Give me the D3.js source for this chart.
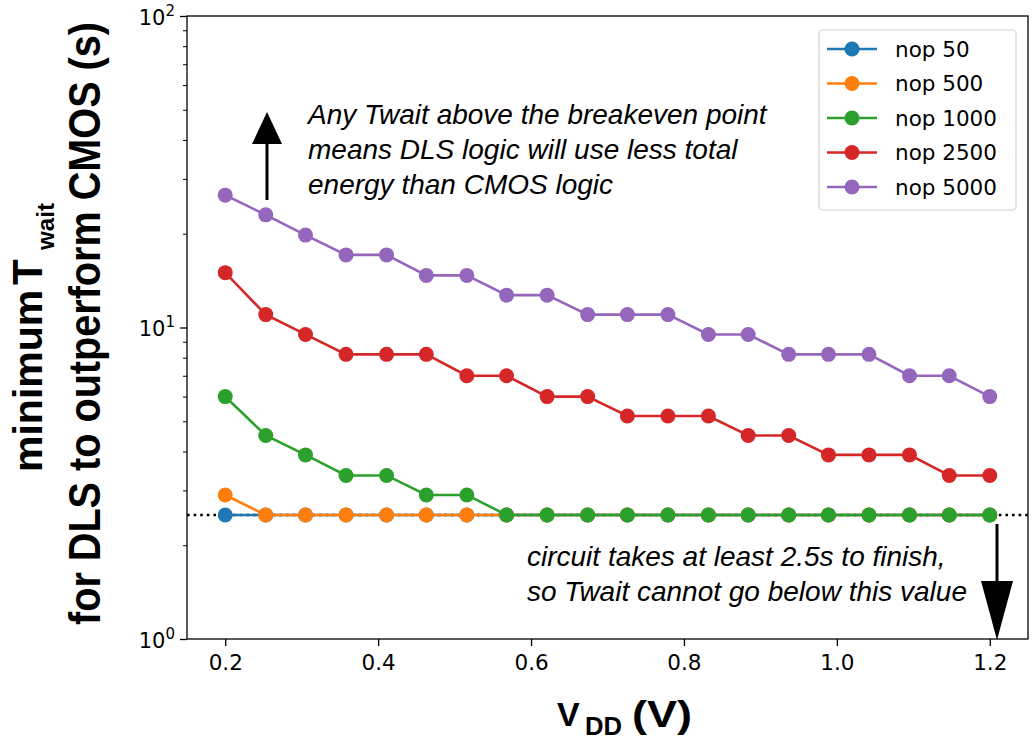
<!DOCTYPE html>
<html><head><meta charset="utf-8">
<script src="https://cdn.jsdelivr.net/npm/d3@7"></script>
<style>body{margin:0;background:#fff}</style>
</head><body>
<svg id="c" width="1034" height="740"></svg>
<script>
const vdd = [0.2, 0.253, 0.305, 0.358, 0.411, 0.463, 0.516, 0.568, 0.621, 0.674, 0.726, 0.779, 0.832, 0.884, 0.937, 0.989, 1.042, 1.095, 1.147, 1.2];
const nop50   = [2.5,2.5,2.5,2.5,2.5,2.5,2.5,2.5,2.5,2.5,2.5,2.5,2.5,2.5,2.5,2.5,2.5,2.5,2.5,2.5];
const nop500  = [2.9,2.5,2.5,2.5,2.5,2.5,2.5,2.5,2.5,2.5,2.5,2.5,2.5,2.5,2.5,2.5,2.5,2.5,2.5,2.5];
const nop1000 = [6.0,4.5,3.9,3.35,3.35,2.9,2.9,2.5,2.5,2.5,2.5,2.5,2.5,2.5,2.5,2.5,2.5,2.5,2.5,2.5];
const nop2500 = [15,11,9.5,8.2,8.2,8.2,7.0,7.0,6.0,6.0,5.2,5.2,5.2,4.5,4.5,3.9,3.9,3.9,3.35,3.35];
const nop5000 = [26.6,23,19.8,17.1,17.1,14.7,14.7,12.7,12.7,11,11,11,9.5,9.5,8.2,8.2,8.2,7.0,7.0,6.0];
const seriesNames = ["nop 50","nop 500","nop 1000","nop 2500","nop 5000"];
const seriesColors = ["#1f77b4","#ff7f0e","#2ca02c","#d62728","#9467bd"];
const seriesData = [nop50, nop500, nop1000, nop2500, nop5000];
const xTicks = [0.2,0.4,0.6,0.8,1.0,1.2];
const yTicks = [1,10,100];
const minTimeLine = 2.5;

const svg = d3.select("#c");
const L=187, R=1028, T=16, B=639;
const x = d3.scaleLinear().domain([0.15,1.25]).range([L,R]);
const y = d3.scaleLog().domain([1,100]).range([B,T]);
const dv = "'DejaVu Sans',sans-serif";
const ar = "'Liberation Sans',Arial,sans-serif";

// axes
const xAxis = svg.append("g").attr("transform",`translate(0,${B})`)
  .call(d3.axisBottom(x).tickValues(xTicks).tickFormat(d3.format(".1f")).tickSize(7).tickPadding(9));
xAxis.selectAll("text").attr("font-family",dv).attr("font-size",21.5).attr("fill","#000");
xAxis.select(".domain").remove();
xAxis.selectAll("line").attr("stroke","#000").attr("stroke-width",1.3);

const minor = [];
for (let d=1; d<100; d*=10) for (let k=2;k<10;k++) minor.push(d*k);
const yMinor = svg.append("g").attr("transform",`translate(${L},0)`)
  .call(d3.axisLeft(y).tickValues(minor).tickFormat("").tickSize(4));
yMinor.select(".domain").remove();
yMinor.selectAll("line").attr("stroke","#000").attr("stroke-width",1);
const yAxis = svg.append("g").attr("transform",`translate(${L},0)`)
  .call(d3.axisLeft(y).tickValues(yTicks).tickFormat("").tickSize(7));
yAxis.select(".domain").remove();
yAxis.selectAll("line").attr("stroke","#000").attr("stroke-width",1.3);
yAxis.selectAll(".tick").append("text")
  .attr("x",-12).attr("y",8).attr("text-anchor","end")
  .attr("font-family",dv).attr("font-size",21).attr("fill","#000")
  .each(function(d){
    const t=d3.select(this);
    t.append("tspan").text("10");
    t.append("tspan").attr("dy",-9).attr("font-size",15).text(String(Math.round(Math.log10(d))));
  });

// dotted line
svg.append("line").attr("x1",L).attr("x2",R+3).attr("y1",y(minTimeLine)).attr("y2",y(minTimeLine))
  .attr("stroke","#000").attr("stroke-width",2.6).attr("stroke-dasharray","2.6,4");

// series
const line = d3.line().x((d,i)=>x(vdd[i])).y(d=>y(d));
seriesData.forEach((s,k)=>{
  const g = svg.append("g");
  g.append("path").datum(s).attr("d",line).attr("fill","none").attr("stroke",seriesColors[k]).attr("stroke-width",2.6);
  g.selectAll("circle").data(s).join("circle").attr("cx",(d,i)=>x(vdd[i])).attr("cy",d=>y(d)).attr("r",7.5).attr("fill",seriesColors[k]);
});

// frame
svg.append("rect").attr("x",L).attr("y",T).attr("width",R-L).attr("height",B-T).attr("fill","none").attr("stroke","#000").attr("stroke-width",1.3);

// legend
const lg = svg.append("g");
lg.append("rect").attr("x",819).attr("y",30).attr("width",197).attr("height",180).attr("rx",4)
  .attr("fill","#fff").attr("fill-opacity",0.8).attr("stroke","#d0d0d0").attr("stroke-width",1.2);
seriesNames.forEach((n,k)=>{
  const yy = 49 + k*34.5;
  lg.append("line").attr("x1",827).attr("x2",877).attr("y1",yy).attr("y2",yy).attr("stroke",seriesColors[k]).attr("stroke-width",2.6);
  lg.append("circle").attr("cx",852).attr("cy",yy).attr("r",7.5).attr("fill",seriesColors[k]);
  lg.append("text").attr("x",895).attr("y",yy).attr("dy","0.36em").attr("font-family",dv).attr("font-size",21.5).attr("fill","#000").text(n);
});

// annotations
const ann = (lines, x0, y0) => {
  lines.forEach((t,i)=> svg.append("text").attr("x",x0).attr("y",y0+i*35)
    .attr("font-family",ar).attr("font-style","italic").attr("font-size",28).attr("fill","#000").text(t));
};
ann(["Any Twait above the breakeven point","means DLS logic will use less total","energy than CMOS logic"], 308, 124);
ann(["circuit takes at least 2.5s to finish,","so Twait cannot go below this value"], 527, 566);

// arrows
svg.append("line").attr("x1",267).attr("x2",267).attr("y1",200).attr("y2",140).attr("stroke","#000").attr("stroke-width",3);
svg.append("path").attr("d","M252,144 L267,112 L282,144 Z").attr("fill","#000");
svg.append("line").attr("x1",997).attr("x2",997).attr("y1",524).attr("y2",585).attr("stroke","#000").attr("stroke-width",3);
svg.append("path").attr("d","M981,581 L997,640 L1013,581 Z").attr("fill","#000");

// x label
const xl = svg.append("g").attr("font-family",ar).attr("font-weight","bold").attr("fill","#000");
xl.append("text").attr("x",557).attr("y",726).attr("font-size",34).text("V");
xl.append("text").attr("x",585).attr("y",735).attr("font-size",25).attr("textLength",37).attr("lengthAdjust","spacingAndGlyphs").text("DD");
xl.append("text").attr("x",632).attr("y",727).attr("font-size",36).attr("textLength",60).attr("lengthAdjust","spacingAndGlyphs").text("(V)");

// y label (rotated: local x = -screenY, local y = screenX)
const yl = svg.append("g").attr("transform","rotate(-90)").attr("font-family",ar).attr("font-weight","bold").attr("fill","#000");
yl.append("text").attr("x",-472).attr("y",42).attr("font-size",41).text("minimum");
yl.append("text").attr("x",-285).attr("y",42).attr("font-size",42).text("T");
yl.append("text").attr("x",-250).attr("y",54).attr("font-size",24).attr("textLength",47).attr("lengthAdjust","spacingAndGlyphs").text("wait");
yl.append("text").attr("x",-625).attr("y",100).attr("font-size",45).attr("textLength",603).attr("lengthAdjust","spacingAndGlyphs")
  .text("for DLS to outperform CMOS (s)");
</script>
</body></html>
